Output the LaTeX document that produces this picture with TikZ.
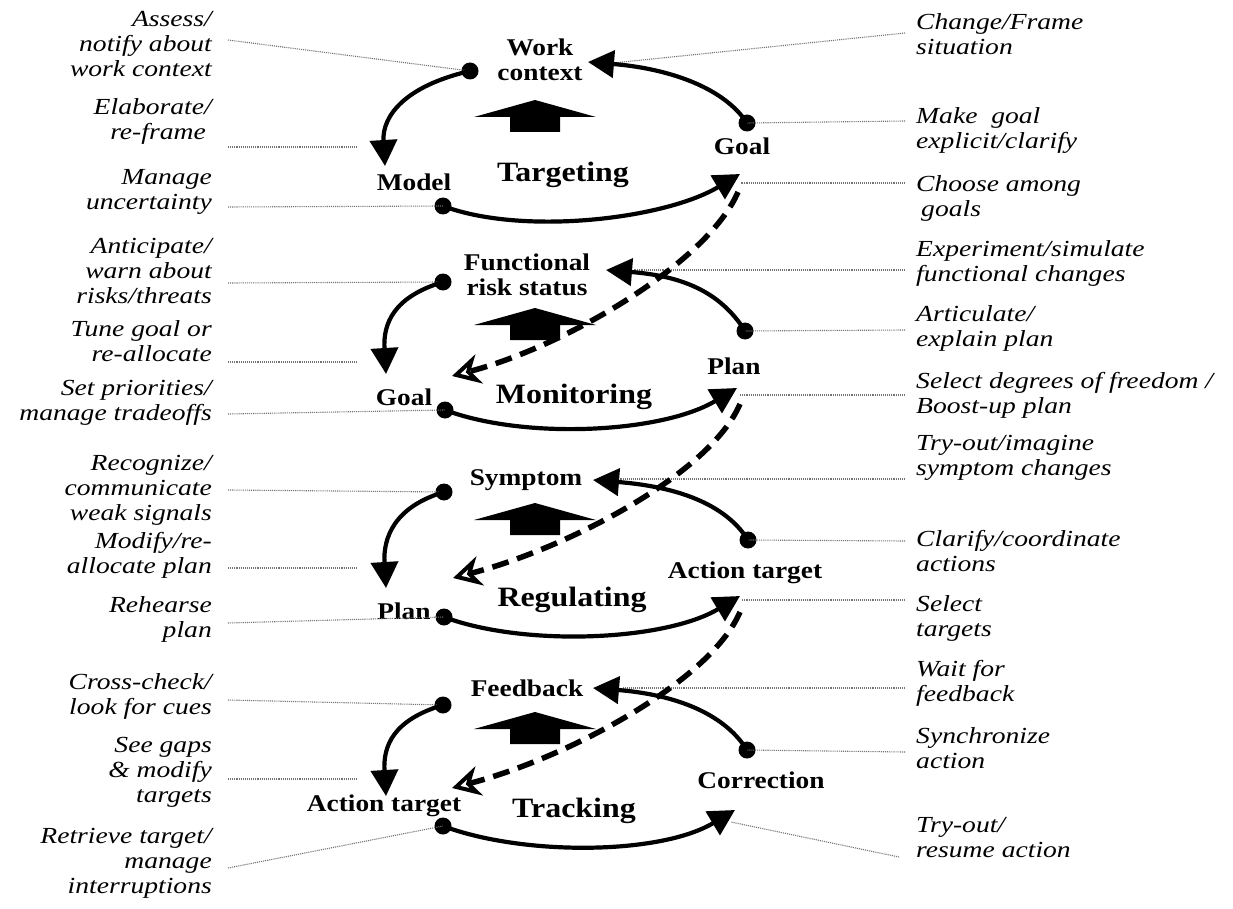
\documentclass[tikz,border=0pt]{standalone}
\usepackage{fontspec}
\setmainfont{Liberation Serif}
\newfontfamily\cuefont[FakeStretch=1.2]{Liberation Serif}
\newfontfamily\topicfont[FakeStretch=1.14]{Liberation Serif}
\usepackage{tikz}
\usetikzlibrary{arrows.meta, positioning, calc}
\tikzset{
  bullet/.style={circle, fill=black, inner sep=0pt, minimum size=17pt},
  topic/.style={font=\topicfont\bfseries\fontsize{24}{25}\selectfont,
    align=center, inner sep=0pt},
  stage/.style={font=\topicfont\bfseries\fontsize{28}{30}\selectfont, inner sep=0pt},
  cueleft/.style={font=\cuefont\itshape\fontsize{23}{25}\selectfont,
    align=right, anchor=east, inner sep=0pt},
  cueright/.style={font=\cuefont\itshape\fontsize{23}{25}\selectfont,
    align=left, anchor=west, inner sep=0pt},
  cycleline/.style={line width=4.2pt, -{Triangle[length=26pt, width=27pt]}},
  handover/.style={line width=5.5pt, dash pattern=on 17pt off 9pt,
    -{Stealth[open, length=28pt, width=30pt, inset=9pt, line width=4pt]}},
  leader/.style={black!55, line width=1.1pt, densely dotted},
  blockup/.style={fill=black}
}

\begin{document}
\begin{tikzpicture}[x=1pt, y=-1pt]
  \useasboundingbox (0,0) rectangle (1233,909);

  % left cue labels
  \node[cueleft] (assess) at (212,44) {Assess/\\notify about\\work context};
  \node[cueleft] (elaborate) at (212,121) {Elaborate/\\re-frame\hspace*{6pt}};
  \node[cueleft] (uncert) at (212,192) {Manage\\uncertainty};
  \node[cueleft] (anticip) at (212,271) {Anticipate/\\warn about\\risks/threats};
  \node[cueleft] (tune) at (212,341) {Tune goal or\\re-allocate};
  \node[cueleft] (priorities) at (212,403) {Set priorities/\\manage tradeoffs};
  \node[cueleft] (recognize) at (212,490) {Recognize/\\communicate\\weak signals};
  \node[cueleft] (modify) at (212,555) {Modify/re-\\allocate plan};
  \node[cueleft] (rehearse) at (212,619) {Rehearse\\plan};
  \node[cueleft] (crosscheck) at (212,696) {Cross-check/\\look for cues};
  \node[cueleft] (seegaps) at (212,772) {See gaps\\\& modify\\targets};
  \node[cueleft] (retrieve) at (212,863) {Retrieve target/\\manage\\interruptions};

  % right cue labels
  \node[cueright] (change) at (916,34) {Change/Frame\\situation};
  \node[cueright] (explicit) at (916,131) {Make\ \ goal\\explicit/clarify};
  \node[cueright] (choose) at (916,198) {Choose among\\\hspace*{5pt}goals};
  \node[cueright] (simulate) at (916,263) {Experiment/simulate\\functional changes};
  \node[cueright] (articulate) at (916,328) {Articulate/\\explain plan};
  \node[cueright] (freedom) at (916,395) {Select degrees of freedom /\\Boost-up plan};
  \node[cueright] (imagine) at (916,458) {Try-out/imagine\\symptom changes};
  \node[cueright] (coord) at (916,551) {Clarify/coordinate\\actions};
  \node[cueright] (seltargets) at (916,618) {Select\\targets};
  \node[cueright] (wait) at (916,683) {Wait for\\feedback};
  \node[cueright] (synchro) at (916,748) {Synchronize\\action};
  \node[cueright] (resume) at (916,838) {Try-out/\\resume action};

  % dots and arrow ends of the four loops
  \node[bullet] (tlTg) at (470,71) {};
  \node[bullet] (rTg) at (747,123) {};
  \node[bullet] (blTg) at (443,206) {};
  \coordinate (ltTg) at (385,166);
  \coordinate (rtTg) at (588,62);
  \coordinate (btTg) at (740,174);

  \node[bullet] (tlMo) at (443,282) {};
  \node[bullet] (rMo) at (745,331) {};
  \node[bullet] (blMo) at (445,410) {};
  \coordinate (ltMo) at (386,374);
  \coordinate (rtMo) at (606,270);
  \coordinate (btMo) at (737,388);

  \node[bullet] (tlRg) at (444,492) {};
  \node[bullet] (rRg) at (748,540) {};
  \node[bullet] (blRg) at (444,617) {};
  \coordinate (ltRg) at (386,588);
  \coordinate (rtRg) at (593,480);
  \coordinate (btRg) at (740,596);

  \node[bullet] (tlTr) at (443,705) {};
  \node[bullet] (rTr) at (747,750) {};
  \node[bullet] (blTr) at (443,826) {};
  \coordinate (ltTr) at (386,796);
  \coordinate (rtTr) at (593,688);
  \coordinate (btTr) at (735,810);

  % loop labels
  \node[topic] (workctx) at (540,60) {Work\\context};
  \node[topic] (goalTg) at (742,146) {Goal};
  \node[topic] (model) at (414,182) {Model};
  \node[stage] (targeting) at (563,175) {Targeting};

  \node[topic] (riskstat) at (527,275) {Functional\\risk status};
  \node[topic] (planMo) at (734,366) {Plan};
  \node[topic] (goalMo) at (404,397) {Goal};
  \node[stage] (monitoring) at (574,397) {Monitoring};

  \node[topic] (symptom) at (526,480) {Symptom};
  \node[topic] (actionRg) at (745,573) {Action target};
  \node[topic] (planRg) at (404,611) {Plan};
  \node[stage] (regulating) at (572,600) {Regulating};

  \node[topic] (feedback) at (527,688) {Feedback};
  \node[topic] (correction) at (761,780) {Correction};
  \node[topic] (actionTr) at (384,806) {Action target};
  \node[stage] (tracking) at (574,811) {Tracking};

  % leader lines
  \coordinate (lA) at (228,40);   \coordinate (lB) at (228,147);
  \coordinate (lC) at (228,207);  \coordinate (lD) at (228,283);
  \coordinate (lE) at (228,362);  \coordinate (lF) at (228,414);
  \coordinate (lG) at (228,490);  \coordinate (lH) at (228,568);
  \coordinate (lI) at (228,623);  \coordinate (lJ) at (228,700);
  \coordinate (lK) at (228,779);  \coordinate (lL) at (228,868);
  \draw[leader] (lA) -- (tlTg.center);
  \draw[leader] (lB) -- (358,147);
  \draw[leader] (lC) -- (blTg.center);
  \draw[leader] (lD) -- (tlMo.center);
  \draw[leader] (lE) -- (358,362);
  \draw[leader] (lF) -- (blMo.center);
  \draw[leader] (lG) -- (tlRg.center);
  \draw[leader] (lH) -- (358,568);
  \draw[leader] (lI) -- (blRg.center);
  \draw[leader] (lJ) -- (tlTr.center);
  \draw[leader] (lK) -- (358,779);
  \draw[leader] (lL) -- (blTr.center);

  \coordinate (rA) at (905,33);   \coordinate (rB) at (905,121);
  \coordinate (rC) at (905,183);  \coordinate (rD) at (905,270);
  \coordinate (rE) at (905,330);  \coordinate (rF) at (905,395);
  \coordinate (rG) at (905,479);  \coordinate (rH) at (905,541);
  \coordinate (rI) at (905,600);  \coordinate (rJ) at (905,688);
  \coordinate (rK) at (905,752);  \coordinate (rL) at (899,857);
  \draw[leader] (rA) -- (613,63);
  \draw[leader] (rB) -- (rTg.center);
  \draw[leader] (rC) -- (741,183);
  \draw[leader] (rD) -- (634,270);
  \draw[leader] (rE) -- (rMo.center);
  \draw[leader] (rF) -- (740,395);
  \draw[leader] (rG) -- (618,479);
  \draw[leader] (rH) -- (rRg.center);
  \draw[leader] (rI) -- (742,600);
  \draw[leader] (rJ) -- (623,688);
  \draw[leader] (rK) -- (rTr.center);
  \draw[leader] (rL) -- (731,822);

  % loops
  \draw[cycleline] (rTg.center) .. controls +(-25,-38) and +(75,6) .. (rtTg);
  \draw[cycleline] (tlTg.center) .. controls +(-65,15) and +(-3,-50) .. (ltTg);
  \draw[cycleline] (blTg.center) .. controls +(80,30) and +(-75,45) .. (btTg);

  \draw[cycleline] (rMo.center) .. controls +(-25,-40) and +(75,6) .. (rtMo);
  \draw[cycleline] (tlMo.center) .. controls +(-50,15) and +(-3,-50) .. (ltMo);
  \draw[cycleline] (blMo.center) .. controls +(80,30) and +(-75,45) .. (btMo);

  \draw[cycleline] (rRg.center) .. controls +(-25,-40) and +(75,6) .. (rtRg);
  \draw[cycleline] (tlRg.center) .. controls +(-50,15) and +(-3,-50) .. (ltRg);
  \draw[cycleline] (blRg.center) .. controls +(80,30) and +(-75,45) .. (btRg);

  \draw[cycleline] (rTr.center) .. controls +(-25,-40) and +(75,6) .. (rtTr);
  \draw[cycleline] (tlTr.center) .. controls +(-50,15) and +(-3,-50) .. (ltTr);
  \draw[cycleline] (blTr.center) .. controls +(80,30) and +(-75,45) .. (btTr);

  % block arrows
  \foreach \top in {100,308,503,712}
    \fill[blockup] (535,\top) -- (596,\top+17) -- (560,\top+17) -- (560,\top+32)
      -- (510,\top+32) -- (510,\top+17) -- (474,\top+17) -- cycle;

  % dashed hand-over arrows
  \coordinate (dsTg) at (738,192);  \coordinate (deMo) at (452,376);
  \coordinate (dsMo) at (740,404);  \coordinate (deRg) at (453,578);
  \coordinate (dsRg) at (740,612);  \coordinate (deTr) at (452,788);
  \draw[handover] (dsTg) .. controls +(-30,70) and +(115,-30) .. (deMo);
  \draw[handover] (dsMo) .. controls +(-30,70) and +(115,-30) .. (deRg);
  \draw[handover] (dsRg) .. controls +(-30,70) and +(115,-30) .. (deTr);
\end{tikzpicture}
\end{document}
